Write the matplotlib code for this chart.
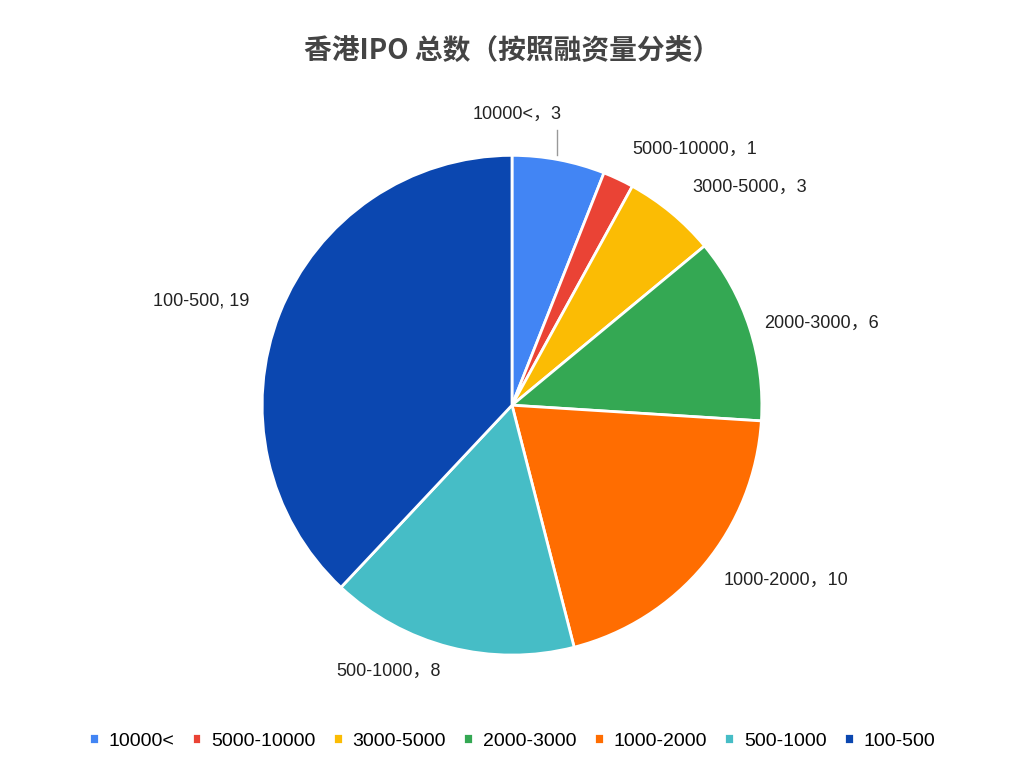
import numpy as np
import matplotlib.pyplot as plt

plt.rcParams['font.family'] = ['Liberation Sans', 'Noto Sans CJK SC', 'DejaVu Sans']

categories = ['10000<', '5000-10000', '3000-5000', '2000-3000', '1000-2000', '500-1000', '100-500']
values = [3, 1, 3, 6, 10, 8, 19]
label_texts = ['10000<，3', '5000-10000，1', '3000-5000，3', '2000-3000，6',
               '1000-2000，10', '500-1000，8', '100-500, 19']
colors = ['#4285F4', '#EA4335', '#FBBC04', '#34A853', '#FF6D01', '#46BDC6', '#0B47B0']

fig = plt.figure(figsize=(10.24, 7.8), dpi=100)
fig.text(0.5, 0.935, '香港IPO 总数（按照融资量分类）', ha='center', va='center',
         fontsize=20, fontweight='bold', color='#444444',
         family=['Noto Sans CJK SC', 'DejaVu Sans'])

ax = fig.add_axes([0.256, 0.160, 0.488, 0.641])
wedges, _ = ax.pie(values, colors=colors, startangle=90, counterclock=False,
                   wedgeprops=dict(edgecolor='white', linewidth=2))
ax.set_xlim(-1, 1)
ax.set_ylim(-1, 1)
ax.set_aspect('equal')

dists = [1.13, 1.13, 1.13, 1.06, 1.1, 1.1, 1.13]
for w, txt, d in zip(wedges, label_texts, dists):
    ang = np.deg2rad((w.theta1 + w.theta2) / 2)
    x, y = np.cos(ang), np.sin(ang)
    if txt.startswith('10000<'):
        ax.plot([x * 0.97, x * 0.97], [1.0, 1.1], color='#999999', lw=1, clip_on=False)
        ax.text(x * 0.1, 1.13, txt, ha='center', va='bottom', fontsize=13, color='#222222')
        continue
    ha = 'left' if x > 0 else 'right'
    if abs(x) < 0.3:
        ha = 'center'
    if txt.startswith('500-1000'):
        x -= 0.2
    ax.text(x * d, y * d, txt, ha=ha, va='center', fontsize=13, color='#222222')

leg = fig.legend(wedges, categories, loc='center', bbox_to_anchor=(0.5, 0.05), ncol=7,
                 frameon=False, fontsize=14, handlelength=0.5, handleheight=0.5,
                 handletextpad=0.5, columnspacing=0.9)
fig.savefig('out.png', dpi=100)
